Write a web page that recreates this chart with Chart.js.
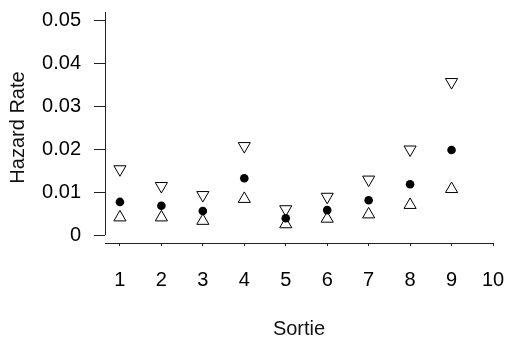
<!DOCTYPE html>
<html lang="en">
<head>
    <meta charset="UTF-8">
    <title>Hazard Rate by Sortie</title>
    <script src="https://cdn.jsdelivr.net/npm/chart.js"></script>
    <style>
        html, body { margin: 0; padding: 0; background: #fff; }
        #wrap { width: 505px; height: 343px; }
    </style>
</head>
<body>
    <div id="wrap"><canvas id="hazardChart"></canvas></div>
    <script>
        // values
        const sorties = [1, 2, 3, 4, 5, 6, 7, 8, 9];
        const estimate = [0.0077, 0.0068, 0.0056, 0.0132, 0.0039, 0.0058, 0.0081, 0.0118, 0.0198];
        const upper = [0.0153, 0.0114, 0.0093, 0.0207, 0.0060, 0.0089, 0.0129, 0.0199, 0.0356];
        const lower = [0.0041, 0.0041, 0.0033, 0.0084, 0.0025, 0.0038, 0.0048, 0.0070, 0.0107];
        const xTicks = [1, 2, 3, 4, 5, 6, 7, 8, 9, 10];
        const yTicks = [0, 0.01, 0.02, 0.03, 0.04, 0.05];

        const toPoints = vals => sorties.map((s, i) => ({ x: s, y: vals[i] }));
        const font = { family: "'Liberation Sans', Arial, sans-serif", size: 20 };

        // R style y axis line: runs from 0 up to the top, not down to the x axis
        const yAxisLine = {
            id: 'yAxisLine',
            afterDraw(chart) {
                const { ctx, chartArea, scales } = chart;
                const x = Math.round(chartArea.left) + 0.5;
                ctx.save();
                ctx.strokeStyle = '#222';
                ctx.lineWidth = 1;
                ctx.beginPath();
                ctx.moveTo(x, chartArea.top);
                ctx.lineTo(x, scales.y.getPixelForValue(0));
                ctx.stroke();
                ctx.restore();
            }
        };

        const ctx = document.getElementById('hazardChart').getContext('2d');
        new Chart(ctx, {
            type: 'scatter',
            data: {
                datasets: [
                    {
                        label: 'Estimate',
                        data: toPoints(estimate),
                        pointStyle: 'circle',
                        pointRadius: 4.3,
                        backgroundColor: '#000',
                        borderColor: '#000',
                        borderWidth: 0
                    },
                    {
                        label: 'Upper',
                        data: toPoints(upper),
                        pointStyle: 'triangle',
                        rotation: 180,
                        pointRadius: 7,
                        backgroundColor: 'rgba(0,0,0,0)',
                        borderColor: '#000',
                        borderWidth: 1
                    },
                    {
                        label: 'Lower',
                        data: toPoints(lower),
                        pointStyle: 'triangle',
                        pointRadius: 7,
                        backgroundColor: 'rgba(0,0,0,0)',
                        borderColor: '#000',
                        borderWidth: 1
                    }
                ]
            },
            options: {
                responsive: true,
                maintainAspectRatio: false,
                animation: false,
                layout: { padding: { top: 12, right: 12, bottom: 0, left: 0 } },
                plugins: {
                    legend: { display: false },
                    tooltip: { enabled: false }
                },
                scales: {
                    x: {
                        type: 'linear',
                        min: 0.64,
                        max: 10,
                        afterBuildTicks: axis => { axis.ticks = xTicks.map(v => ({ value: v })); },
                        afterFit: axis => {
                            axis.height = 100;
                            axis.paddingLeft = 0;
                            axis.paddingRight = 0;
                        },
                        ticks: { color: '#000', font: font, padding: 22, maxRotation: 0 },
                        grid: { drawOnChartArea: false, tickLength: 3, color: '#222' },
                        border: { display: true, color: '#222', width: 1 },
                        title: { display: true, text: 'Sortie', color: '#111', font: font, padding: { top: 0, bottom: 2 } }
                    },
                    y: {
                        min: -0.00186,
                        max: 0.0519,
                        afterBuildTicks: axis => { axis.ticks = yTicks.map(v => ({ value: v })); },
                        afterFit: axis => {
                            axis.width = 105;
                            axis.paddingTop = 0;
                            axis.paddingBottom = 0;
                        },
                        ticks: {
                            color: '#000',
                            font: font,
                            padding: 13,
                            callback: v => v === 0 ? '0' : v.toFixed(2)
                        },
                        grid: { drawOnChartArea: false, tickLength: 11, color: '#222' },
                        border: { display: false },
                        title: { display: true, text: 'Hazard Rate', color: '#111', font: font, padding: { top: 6, bottom: 0 } }
                    }
                }
            },
            plugins: [yAxisLine]
        });
    </script>
</body>
</html>
